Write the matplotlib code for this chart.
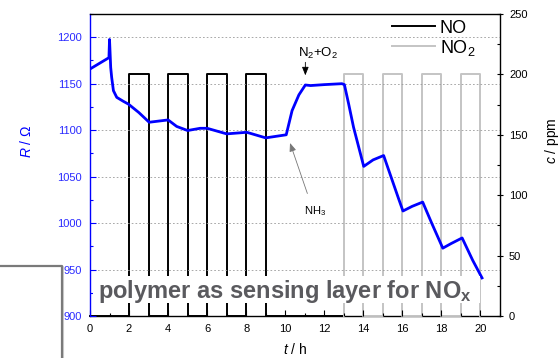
import matplotlib
matplotlib.use("Agg")
import matplotlib.pyplot as plt
from matplotlib.lines import Line2D
from matplotlib.patches import Rectangle
from matplotlib.ticker import MultipleLocator
import numpy as np

plt.rcParams['font.family'] = ['Liberation Sans', 'DejaVu Sans']
plt.rcParams['mathtext.fontset'] = 'custom'
plt.rcParams['mathtext.rm'] = 'Liberation Sans'
plt.rcParams['mathtext.it'] = 'Liberation Sans:italic'
plt.rcParams['mathtext.bf'] = 'Liberation Sans:bold'

# ---- data ----
R_t = [0.0, 0.97, 1.0, 1.06, 1.11, 1.2, 1.37, 1.71, 1.97, 2.5, 3.03, 4.0, 4.44, 5.0, 5.64, 6.0,
       7.0, 8.03, 9.0, 10.05, 10.2, 10.35, 10.7, 11.03, 11.3, 12.0, 12.9, 13.03, 13.25, 13.5, 14.02,
       14.5, 15.04, 15.81, 16.03, 16.5, 17.04, 17.5, 18.07, 18.5, 19.06, 19.6, 20.08]
R_ohm = [1165.8, 1178, 1197.6, 1167.5, 1156.8, 1142.5, 1135.3, 1131, 1128, 1119, 1108.5, 1111, 1104, 1099.6, 1102, 1102,
         1096, 1097.7, 1091.7, 1095, 1108, 1121, 1138, 1148.6, 1148, 1149, 1150, 1149, 1128, 1103, 1061,
         1068, 1072.7, 1026, 1013, 1018, 1022.6, 1000, 973, 978, 984, 960, 941]

NO_on = [2, 4, 6, 8]
NO_off = [3, 5, 7, 9]
NO2_on = [13, 15, 17, 19]
NO2_off = [14, 16, 18, 20]
pulse_level = 200
NO_range = [0, 13]
NO2_range = [13, 20]

x_ticks = [0, 2, 4, 6, 8, 10, 12, 14, 16, 18, 20]
left_ticks = [900, 950, 1000, 1050, 1100, 1150, 1200]
right_ticks = [0, 50, 100, 150, 200, 250]


def pulses(on, off, rng, level):
    t = [rng[0]]
    c = [0]
    for a, b in zip(on, off):
        t += [a, a, b, b]
        c += [0, level, level, 0]
    if t[-1] < rng[1]:
        t.append(rng[1]); c.append(0)
    return t, c


W, H = 560, 358
fig = plt.figure(figsize=(W / 100, H / 100), dpi=100)
L, Rr, B, T = 90, 500, 316, 14
ax = fig.add_axes([L / W, 1 - B / H, (Rr - L) / W, (B - T) / H])
ax2 = ax.twinx()
ax.set_zorder(ax2.get_zorder() + 1)
ax.patch.set_visible(False)

blue = '#0000ff'
tick_blue = '#2a2aff'
gray = '#c4c4c4'

# pulses on right axis
t1, c1 = pulses(NO_on, NO_off, NO_range, pulse_level)
t2, c2 = pulses(NO2_on, NO2_off, NO2_range, pulse_level)
ax2.plot(t1, c1, color='black', lw=1.4, zorder=3, clip_on=False, label='NO')
ax2.plot(t2, c2, color=gray, lw=1.4, zorder=3, clip_on=False, label='NO$_2$')
ax2.set_ylim(0, 250)

# resistance on left axis
ax.plot(R_t, R_ohm, color=blue, lw=2.0, zorder=4, solid_joinstyle='round')
ax.set_xlim(0, 21)
ax.set_ylim(900, 1225)

# grid
ax.set_yticks(left_ticks)
for v in left_ticks[1:]:
    ax.axhline(v, color='#9a9a9a', lw=0.6, ls=(0, (2, 2.5)), zorder=1)

ax.set_xticks(x_ticks)
ax.xaxis.set_minor_locator(MultipleLocator(1))
ax.yaxis.set_minor_locator(MultipleLocator(25))
ax2.set_yticks(right_ticks)
ax2.yaxis.set_minor_locator(MultipleLocator(25))

ax.tick_params(axis='x', which='major', direction='in', length=4, width=0.8, labelsize=8, pad=6, top=False, color='black')
ax.tick_params(axis='x', which='minor', direction='in', length=2.5, width=0.8, top=False)
ax.tick_params(axis='y', which='major', direction='in', length=4, width=0.8, labelsize=8, pad=6,
               colors=blue, labelcolor=tick_blue)
ax.tick_params(axis='y', which='minor', direction='in', length=2.5, width=0.8, colors=blue)
ax2.tick_params(axis='y', which='major', direction='inout', length=5, width=0.8, labelsize=8, pad=4)
ax2.tick_params(axis='y', which='minor', direction='in', length=2.5, width=0.8)

ax.spines['left'].set_color(blue)
ax.spines['left'].set_linewidth(1.0)
ax.spines['right'].set_visible(False)
ax.spines['bottom'].set_visible(False)
ax.spines['top'].set_linewidth(1.0)
ax2.spines['left'].set_visible(False)
ax2.spines['top'].set_visible(False)
ax2.spines['right'].set_linewidth(1.0)
ax2.spines['bottom'].set_linewidth(1.0)
ax2.spines['bottom'].set_zorder(2)

ax.set_ylabel('$\\it{R}$ / Ω', color=blue, fontsize=10)
ax.yaxis.set_label_coords(-0.137, 0.58)
ax.set_xlabel('$\\it{t}$ / h', fontsize=10)
ax.xaxis.set_label_coords(0.5, -0.085)
ax2.set_ylabel('$\\it{c}$ / ppm', fontsize=10)
ax2.yaxis.set_label_coords(1.105, 0.58)

# annotations
ax.annotate('', xy=(11.03, 1156), xytext=(11.03, 1176),
            arrowprops=dict(arrowstyle='-|>,head_length=0.5,head_width=0.2', color='black', lw=0.6), zorder=5)
ax.text(11.67, 1183, 'N$_2$+O$_2$', fontsize=9.5, ha='center', va='center', zorder=5)
ax.annotate('', xy=(10.2, 1089), xytext=(11.18, 1029),
            arrowprops=dict(arrowstyle='-|>,head_length=0.5,head_width=0.2', color='#777777', lw=0.6), zorder=5)
ax.text(11.54, 1013, 'NH$_3$', fontsize=8, ha='center', va='center', zorder=5)

leg = ax2.legend(loc='upper left', bbox_to_anchor=(0.71, 1.017), frameon=False, fontsize=13,
                 handlelength=2.4, handletextpad=0.25, labelspacing=0.05, borderpad=0.1)

# overlay: white label box with text
fig.patches.append(Rectangle((93 / W, 1 - 303 / H), (480 - 93) / W, 27 / H, transform=fig.transFigure,
                             facecolor='white', edgecolor='none', zorder=10))
fig.text(98 / W, 1 - 298 / H, 'polymer as sensing layer for NO$_\\mathbf{x}$', fontsize=17.0,
         fontweight='bold', color='#5a5a5e', ha='left', va='baseline', zorder=11)

# bottom-left frame
fig.patches.append(Rectangle((0, 0), 62 / W, 1 - 265 / H, transform=fig.transFigure,
                             facecolor='white', edgecolor='none', zorder=10))
fig.lines.append(Line2D([0, 63 / W, 63 / W], [1 - 267 / H, 1 - 267 / H, 0], transform=fig.transFigure,
                        color='#d0d0d0', lw=1.5, zorder=10))
fig.lines.append(Line2D([0, 62 / W, 62 / W], [1 - 265.5 / H, 1 - 265.5 / H, 0], transform=fig.transFigure,
                        color='#7a7a7a', lw=1.6, zorder=11))

fig.savefig('out.png', dpi=100)
